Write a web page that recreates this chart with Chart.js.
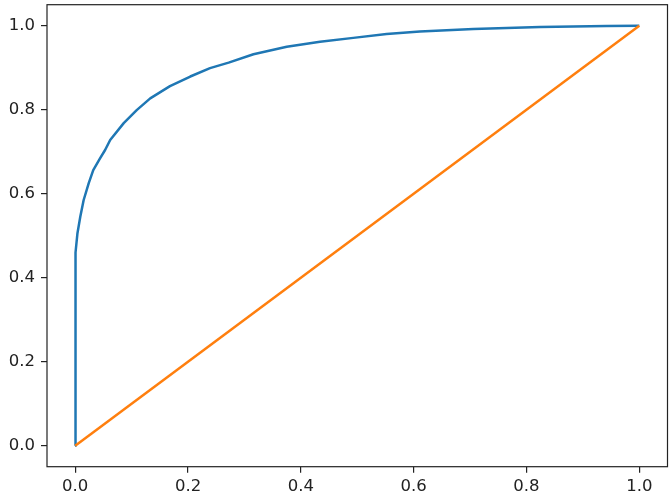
<!DOCTYPE html>
<html>
<head>
<meta charset="utf-8">
<script src="https://cdn.jsdelivr.net/npm/chart.js@4/dist/chart.umd.min.js"></script>
<style>
html,body{margin:0;padding:0;background:#fff;}
#wrap{width:672px;height:502px;position:relative;}
</style>
</head>
<body>
<div id="wrap"><canvas id="c" width="672" height="502"></canvas></div>
<script>
const rocFpr = [0, 0, 0.0005, 0.0012, 0.004, 0.009, 0.015, 0.024, 0.032, 0.044, 0.053, 0.062, 0.086, 0.109, 0.133, 0.168, 0.204, 0.239, 0.272, 0.316, 0.375, 0.434, 0.493, 0.552, 0.611, 0.706, 0.824, 0.942, 1.0];
const rocTpr = [0, 0.40, 0.43, 0.46, 0.506, 0.545, 0.585, 0.625, 0.656, 0.684, 0.704, 0.728, 0.768, 0.799, 0.827, 0.856, 0.879, 0.899, 0.912, 0.932, 0.950, 0.962, 0.971, 0.980, 0.986, 0.992, 0.997, 0.999, 1.0];
const diagX = [0, 1];
const diagY = [0, 1];
const tickValues = [0, 0.2, 0.4, 0.6, 0.8, 1.0];

const rocPts = rocFpr.map((x, i) => ({x: x, y: rocTpr[i]}));
const diagPts = diagX.map((x, i) => ({x: x, y: diagY[i]}));

const frame = {
  id: 'frame',
  afterDraw(chart) {
    const a = chart.chartArea, ctx = chart.ctx;
    ctx.save();
    ctx.strokeStyle = '#222';
    ctx.lineWidth = 1.2;
    ctx.strokeRect(a.left, a.top, a.right - a.left, a.bottom - a.top);
    ctx.restore();
  }
};

const font = {family: 'DejaVu Sans', size: 16.5};
function setTicks(scale) { scale.ticks = tickValues.map(v => ({value: v})); }

new Chart(document.getElementById('c'), {
  type: 'scatter',
  data: {
    datasets: [
      {data: rocPts, showLine: true, borderColor: '#1f77b4', borderWidth: 2.5, pointRadius: 0, fill: false, order: 2, tension: 0, borderJoinStyle: 'round'},
      {data: diagPts, showLine: true, borderColor: '#ff7f0e', borderWidth: 2.5, pointRadius: 0, fill: false, order: 1}
    ]
  },
  options: {
    responsive: false,
    animation: false,
    events: [],
    layout: {padding: {left: 0, right: 4.5, top: 4.7, bottom: 0}},
    plugins: {legend: {display: false}, tooltip: {enabled: false}},
    scales: {
      x: {
        type: 'linear', min: -0.05, max: 1.05,
        afterBuildTicks: setTicks,
        afterFit(s) { s.height = 35.3; s.paddingLeft = 0; s.paddingRight = 0; },
        border: {display: false},
        grid: {drawOnChartArea: false, drawTicks: true, tickLength: 6, color: '#222', lineWidth: 1.2},
        ticks: {font: font, color: '#222', padding: 4, maxRotation: 0, callback: v => v.toFixed(1)}
      },
      y: {
        type: 'linear', min: -0.05, max: 1.05,
        afterBuildTicks: setTicks,
        afterFit(s) { s.width = 47; s.paddingTop = 0; s.paddingBottom = 0; },
        border: {display: false},
        grid: {drawOnChartArea: false, drawTicks: true, tickLength: 6, color: '#222', lineWidth: 1.2},
        ticks: {font: font, color: '#222', padding: 6, callback: v => v.toFixed(1)}
      }
    }
  },
  plugins: [frame]
});
</script>
</body>
</html>
